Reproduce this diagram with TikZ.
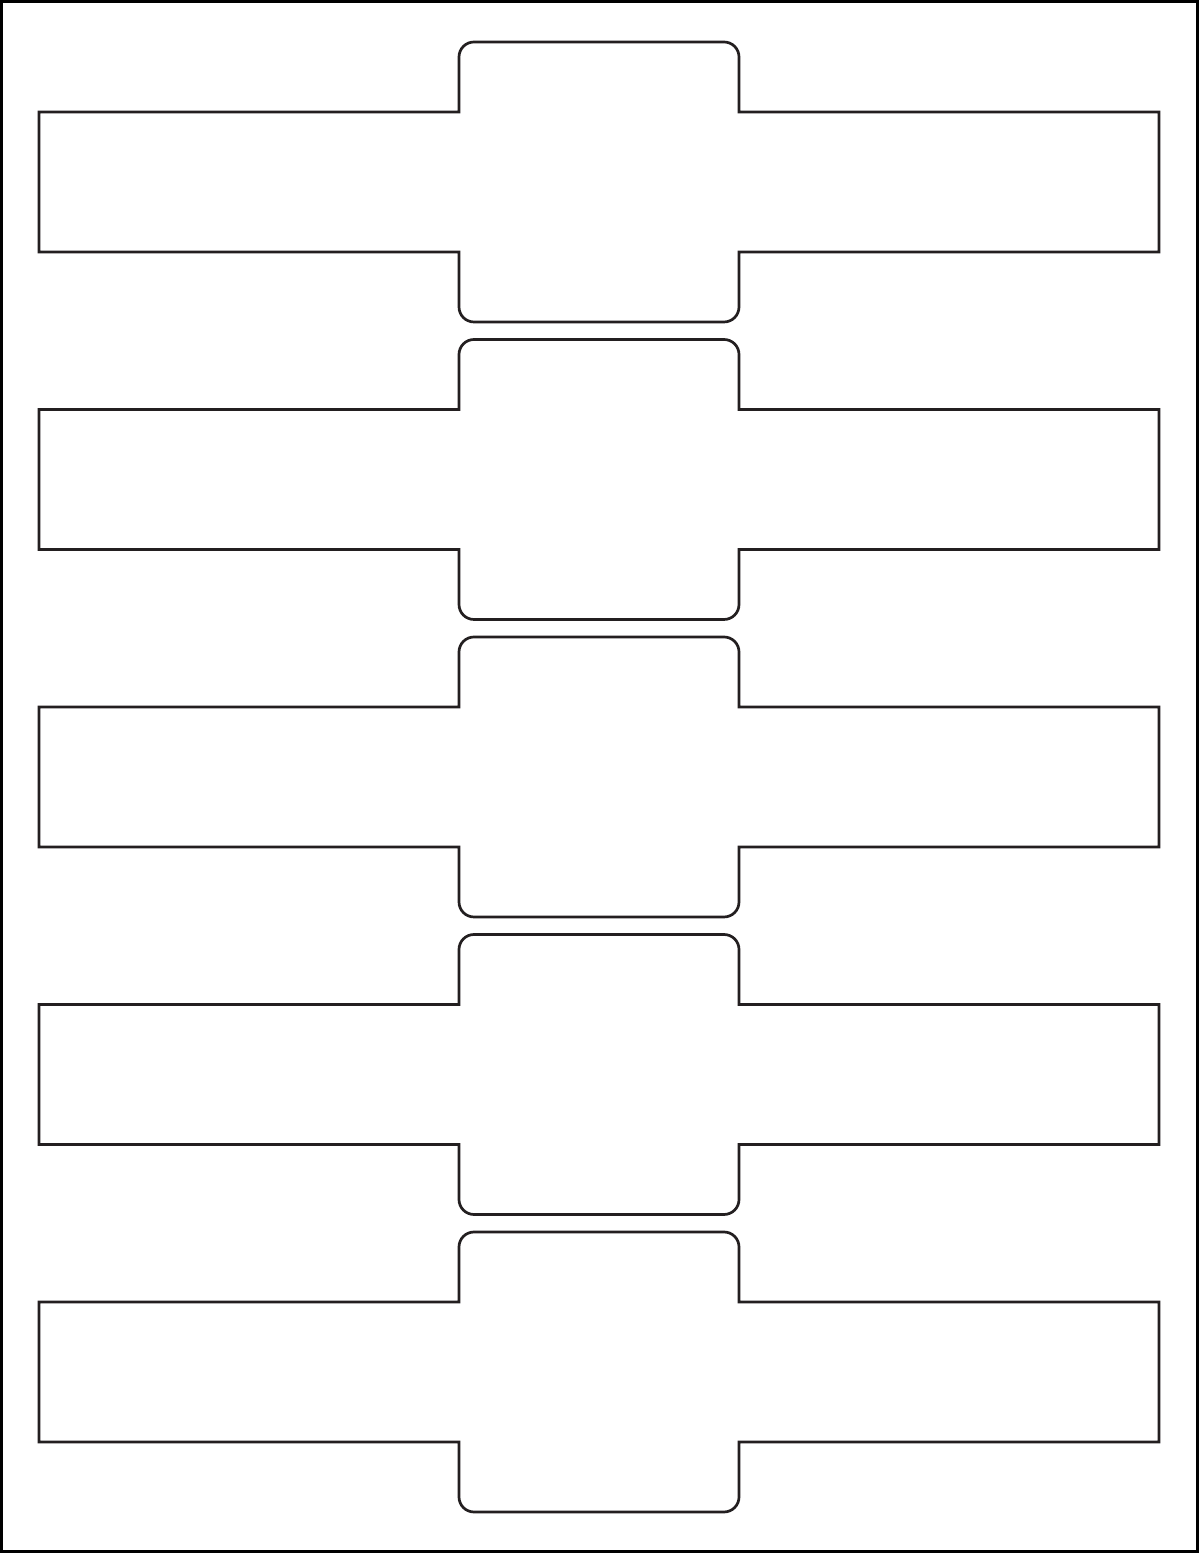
\documentclass[tikz,border=0pt]{standalone}
\definecolor{labelline}{HTML}{231F20}
\begin{document}
\begin{tikzpicture}[x=1pt,y=1pt,
  labelshape/.style={draw=labelline,line width=2.7pt,line join=miter},
  sheetframe/.style={draw=black,line width=3.2pt}]
\useasboundingbox (0,0) rectangle (1200,1553);
\fill[white] (0,0) rectangle (1200,1553);
\draw[sheetframe] (1.6,1.6) rectangle (1197.4,1551.4);
\foreach \t in {42,339.5,637,934.5,1232}{
  \pgfmathsetmacro\b{1553-\t}
  \draw[labelshape] (459,\b-70) -- (39,\b-70) -- (39,\b-210) -- (459,\b-210)
    -- (459,\b-265) arc[start angle=180,end angle=270,radius=15]
    -- (724,\b-280) arc[start angle=270,end angle=360,radius=15]
    -- (739,\b-210) -- (1159,\b-210) -- (1159,\b-70) -- (739,\b-70)
    -- (739,\b-15) arc[start angle=0,end angle=90,radius=15]
    -- (474,\b) arc[start angle=90,end angle=180,radius=15] -- cycle;
}
\end{tikzpicture}
\end{document}
